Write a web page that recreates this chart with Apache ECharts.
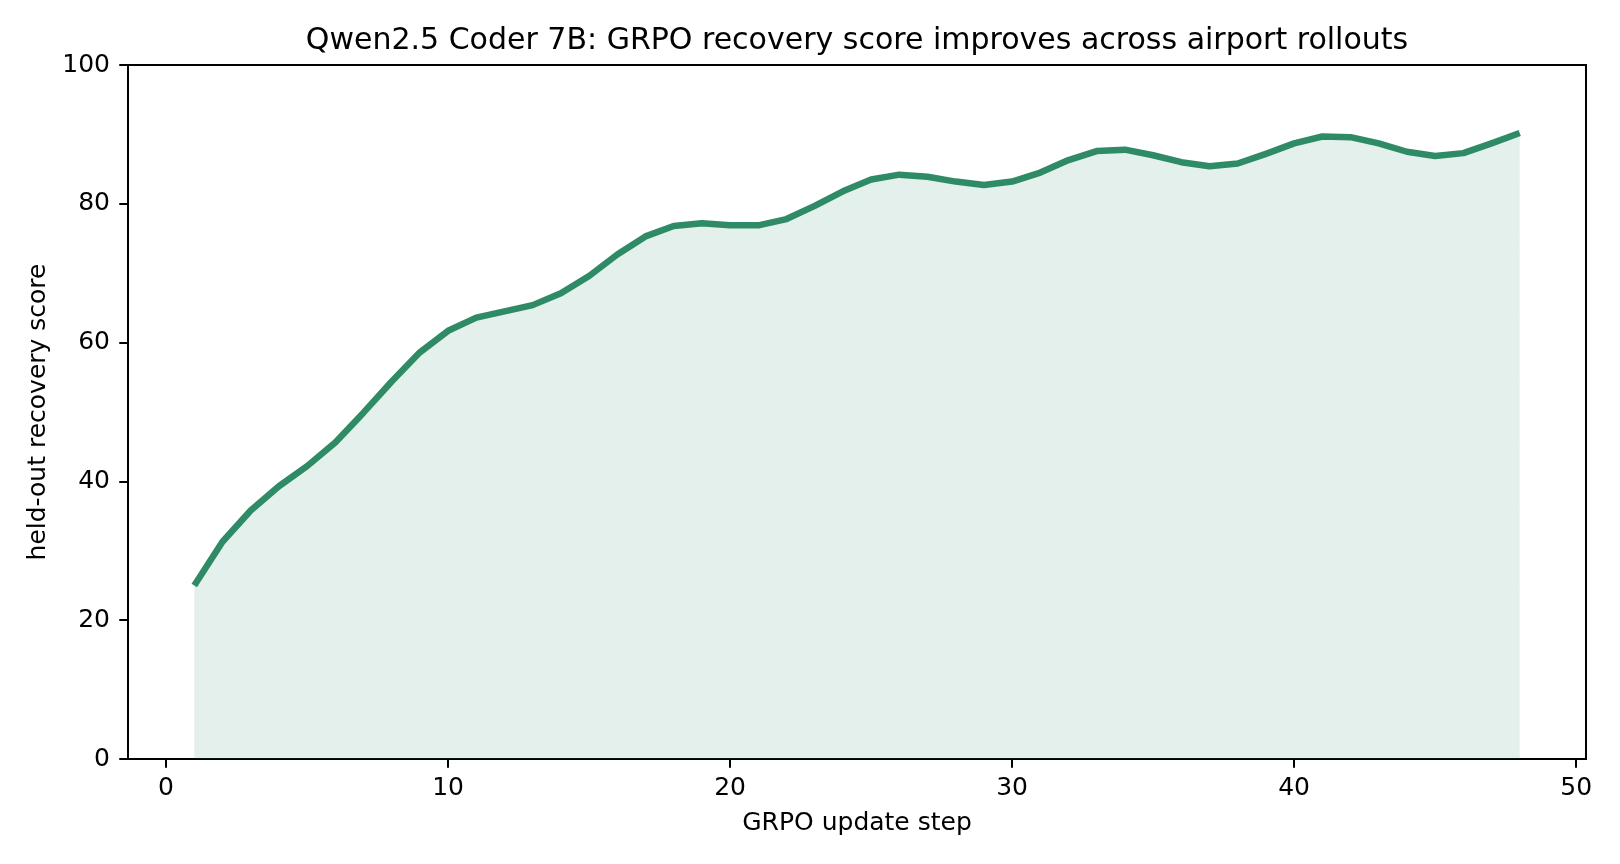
<!DOCTYPE html>
<html>
<head>
<meta charset="utf-8">
<script src="https://cdn.jsdelivr.net/npm/echarts@6/dist/echarts.min.js"></script>
<style>
html,body{margin:0;padding:0;background:#fff;}
#chart{width:1620px;height:864px;}
</style>
</head>
<body>
<div id="chart"></div>
<script>
const steps = [1,2,3,4,5,6,7,8,9,10,11,12,13,14,15,16,17,18,19,20,21,22,23,24,25,26,27,28,29,30,31,32,33,34,35,36,37,38,39,40,41,42,43,44,45,46,47,48];
const scores = [25.0,31.3,35.8,39.3,42.2,45.6,49.9,54.4,58.6,61.7,63.6,64.5,65.4,67.1,69.6,72.7,75.3,76.8,77.2,76.9,76.9,77.8,79.7,81.8,83.5,84.2,83.9,83.2,82.7,83.2,84.5,86.3,87.6,87.8,87.0,86.0,85.4,85.8,87.2,88.7,89.7,89.6,88.7,87.5,86.9,87.3,88.7,90.2];
const xTicks = [0,10,20,30,40,50];
const yTicks = [0,20,40,60,80,100];

const lineColor = '#2e8b66';
const font = 'DejaVu Sans';

const chart = echarts.init(document.getElementById('chart'), null, {renderer:'canvas'});
chart.setOption({
  animation:false,
  backgroundColor:'#fff',
  title:{
    text:'Qwen2.5 Coder 7B: GRPO recovery score improves across airport rollouts',
    left: 852, textAlign:'center', top:21,
    textStyle:{fontFamily:font, fontSize:30, fontWeight:'normal', color:'#000'}
  },
  grid:{left:128, right:34, top:65, bottom:105, show:true, borderColor:'#000', borderWidth:2, backgroundColor:'transparent'},
  xAxis:{
    type:'value', min:-1.35, max:50.35,
    name:'GRPO update step', nameLocation:'middle', nameGap:52,
    nameTextStyle:{fontFamily:font, fontSize:25, color:'#000'},
    axisLine:{show:true, onZero:false, lineStyle:{color:'#000', width:2}},
    axisTick:{show:true, length:8.75, lineStyle:{color:'#000', width:2}, customValues:xTicks},
    axisLabel:{fontFamily:font, fontSize:25, color:'#000', margin:17, customValues:xTicks},
    splitLine:{show:false}
  },
  yAxis:{
    type:'value', min:0, max:100, interval:20,
    name:'held-out recovery score', nameLocation:'middle', nameGap:75, nameRotate:90,
    nameTextStyle:{fontFamily:font, fontSize:25, color:'#000'},
    axisLine:{show:true, onZero:false, lineStyle:{color:'#000', width:2}},
    axisTick:{show:true, length:8.75, lineStyle:{color:'#000', width:2}, customValues:yTicks},
    axisLabel:{fontFamily:font, fontSize:25, color:'#000', margin:18, customValues:yTicks},
    splitLine:{show:false}
  },
  series:[{
    type:'line',
    data: steps.map((s,i)=>[s, scores[i]]),
    symbol:'none',
    lineStyle:{color:lineColor, width:6.5, cap:'butt', join:'round'},
    areaStyle:{color:lineColor, opacity:0.13, origin:'start'},
    z:3
  }]
});
</script>
</body>
</html>
